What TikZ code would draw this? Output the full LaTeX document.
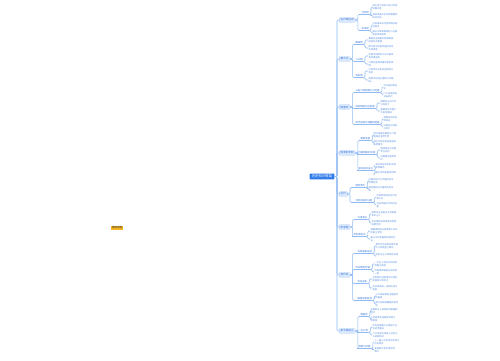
\documentclass[tikz,border=0pt]{standalone}
\usepackage{fontspec}
\setmainfont{Noto Sans CJK SC}
\definecolor{rootblue}{HTML}{2F7BEB}
\definecolor{lonefill}{HTML}{DDEAFD}
\definecolor{loneline}{HTML}{9DC1F7}
\definecolor{txtblue}{HTML}{3574DC}
\definecolor{lighttxt}{HTML}{5A8FE2}
\definecolor{conncol}{HTML}{8FBBF6}
\definecolor{tagfill}{HTML}{F9B523}
\tikzset{
 conn/.style={draw=conncol, line width=0.6pt, rounded corners=1.2pt},
 rootbox/.style={fill=rootblue, text=white, rounded corners=0.6pt, inner xsep=2.2pt, inner ysep=1.2pt, font=\fontsize{3.4}{4}\selectfont},
 lonebox/.style={fill=lonefill, draw=loneline, line width=0.3pt, text=txtblue, rounded corners=0.6pt, inner xsep=1.5pt, inner ysep=1pt, font=\fontsize{2.6}{3}\selectfont},
 ltwo/.style={text=txtblue, inner xsep=0.3pt, inner ysep=0.4pt, font=\fontsize{2.4}{3}\selectfont},
 lthree/.style={text=lighttxt, inner sep=0.3pt, align=left, font=\fontsize{2.25}{3.3}\selectfont},
 tagbox/.style={fill=tagfill, text=black!80, inner xsep=1.2pt, inner ysep=0.8pt, font=\fontsize{2.6}{3}\selectfont}
}
\newcommand{\mmone}[3]{%
 \node[lonebox,anchor=west] (#1) at (339,#2) {#3};
 \draw[conn] (root.east) -- (trunk) |- (#1.west);}
\newcommand{\mmtwo}[5]{%
 \node[ltwo,anchor=south west] (#1) at (#3,#4+1.5) {#5};
 \draw[conn] (#2.east) -- ++(2.5,0) |- (#1.south west) -- (#1.south east);}
\newcommand{\mmthree}[5]{%
 \node[lthree,anchor=west] (#1) at (#3,#4) {#5};
 \draw[conn] (#2.south east) -- ++(1.8,0) |- (#1.west);}
\begin{document}
\begin{tikzpicture}[x=1pt,y=-1pt]
\fill[white] (0,0) rectangle (500,360);
\useasboundingbox (0,0) rectangle (500,360);
\node[tagbox] (tag) at (117,228) {思维导图};
\node[rootbox] (root) at (322,176.5) {历史知识框架};
\coordinate (trunk) at (337,176.5);
% L1 nodes
\mmone{A}{20}{古代政治史}
\mmone{B}{59}{秦与汉}
\mmone{C}{107}{隋唐宋}
\mmone{D}{153}{明清的专制}
\mmone{E}{194}{近代}
\mmone{F}{227}{新思潮}
\mmone{G}{275}{现代史}
\mmone{H}{331}{新中国成立}
% A
\mmtwo{a1}{A}{361}{13}{分封制}
\mmthree{a11}{a1}{372}{7}{周王把土地和人民分封给\\亲属功臣}
\mmthree{a12}{a1}{372}{16}{诸侯须服从王命定期朝贡\\出兵作战}
\mmtwo{a2}{A}{361}{29}{宗法制}
\mmthree{a21}{a2}{372}{25}{以血缘关系为纽带维护统\\治秩序}
\mmthree{a22}{a2}{372}{33}{嫡长子继承制是核心内容\\保证贵族特权}
% B
\mmtwo{b1}{B}{355}{43}{郡县制}
\mmthree{b11}{b1}{368}{40}{秦朝在全国推行郡县制度\\加强中央管理}
\mmthree{b12}{b1}{368}{48}{郡守县令由皇帝直接任免\\不得世袭}
\mmtwo{b2}{B}{355}{60}{三公制}
\mmthree{b21}{b2}{368}{56}{丞相太尉御史大夫分掌政\\务军事监察}
\mmthree{b22}{b2}{368}{64}{九卿分管具体事务相互牵\\制}
\mmtwo{b3}{B}{355}{76}{刺史制}
\mmthree{b31}{b3}{368}{71}{汉武帝设立刺史监察地方\\官员}
\mmthree{b32}{b3}{368}{80}{推恩令削弱王国势力巩固\\统一}
% C
\mmtwo{c1}{C}{355}{91}{三省六部制建立与完善}
\mmthree{c11}{c1}{383}{87}{中书省起草诏\\令}
\mmthree{c12}{c1}{383}{95}{门下省审核尚\\书省执行}
\mmtwo{c2}{C}{355}{107}{科举制度创立发展}
\mmthree{c21}{c2}{380}{103}{隋朝创立进士科\\分科取士}
\mmthree{c22}{c2}{380}{111}{唐朝逐步完善扩\\大统治基础}
\mmtwo{c3}{C}{355}{123}{宋代加强中央集权措施}
\mmthree{c31}{c3}{383}{119}{收精兵削实权\\制钱谷}
\mmthree{c32}{c3}{383}{127}{设通判分割地\\方权力}
% D
\mmtwo{d1}{D}{360}{139}{废除丞相}
\mmthree{d11}{d1}{373}{135}{明太祖废丞相权分六部\\直接对皇帝负责}
\mmthree{d12}{d1}{373}{143}{君主专制空前加强皇权\\高度集中}
\mmtwo{d2}{D}{358}{153}{内阁制度的形成}
\mmthree{d21}{d2}{380}{150}{明成祖设立内阁\\参与机务}
\mmthree{d22}{d2}{380}{158}{内阁票拟皇帝批\\红}
\mmtwo{d3}{D}{358}{169}{军机处的设立}
\mmthree{d31}{d3}{375}{166}{雍正帝设军机处办理\\军政要务}
\mmthree{d32}{d3}{375}{174}{君主专制发展到顶峰\\}
% E
\mmtwo{e1}{E}{355}{186}{南京条约}
\mmthree{e11}{e1}{368}{181}{中国开始沦为半殖民地半\\封建社会}
\mmthree{e12}{e1}{368}{189}{割地赔款五口通商协定关\\税}
\mmtwo{e2}{E}{355}{201}{洋务运动的兴起}
\mmthree{e21}{e2}{376}{197}{中体西用创办近代军\\事工业}
\mmthree{e22}{e2}{376}{205}{开启中国近代化的进\\程}
% F
\mmtwo{f1}{F}{357}{218}{戊戌变法}
\mmthree{f11}{f1}{371}{214}{维新派主张君主立宪发展\\资本主义}
\mmthree{f12}{f1}{371}{223}{百日维新失败但具有思想\\启蒙作用}
\mmtwo{f2}{F}{353}{235}{辛亥革命史}
\mmthree{f21}{f2}{370}{231}{推翻清朝统治结束两千多年\\的君主专制}
\mmthree{f22}{f2}{370}{239}{建立中华民国颁布临时约\\法}
% G
\mmtwo{g1}{G}{357}{252}{五四爱国运动}
\mmthree{g11}{g1}{375}{246}{青年学生发挥先锋作用\\工人阶级登上舞台}
\mmthree{g12}{g1}{375}{256}{新民主主义革命的开端\\}
\mmtwo{g2}{G}{355}{268}{中共建党历程}
\mmthree{g21}{g2}{374}{264}{一大在上海召开后转移\\到嘉兴南湖}
\mmthree{g22}{g2}{374}{272}{中国革命面貌从此焕然\\一新}
\mmtwo{g3}{G}{357}{282}{抗日战争}
\mmthree{g31}{g3}{372}{279}{全民族抗战取得伟大胜利\\民族复兴转折点}
\mmthree{g32}{g3}{372}{288}{抗日民族统一战线形成与\\发展}
\mmtwo{g4}{G}{357}{299}{解放战争胜利}
\mmthree{g41}{g4}{375}{296}{三大战役奠定全国胜利\\的基础}
\mmthree{g42}{g4}{375}{304}{渡江战役推翻国民党统\\治}
% H
\mmtwo{h1}{H}{360}{315}{建国初}
\mmthree{h11}{h1}{370}{311}{巩固新生人民政权恢复国民\\经济}
\mmthree{h12}{h1}{370}{319}{土地改革完成废除封建土\\地制度}
\mmtwo{h2}{H}{358}{331}{一五计划}
\mmthree{h21}{h2}{372}{327}{优先发展重工业奠定工业\\化初步基础}
\mmthree{h22}{h2}{372}{335}{三大改造完成进入社会主\\义初级阶段}
\mmtwo{h3}{H}{358}{347}{改革与开放}
\mmthree{h31}{h3}{374}{342}{十一届三中全会实现伟大\\历史转折}
\mmthree{h32}{h3}{374}{350}{家庭联产承包责任制\\推行}
\end{tikzpicture}
\end{document}
